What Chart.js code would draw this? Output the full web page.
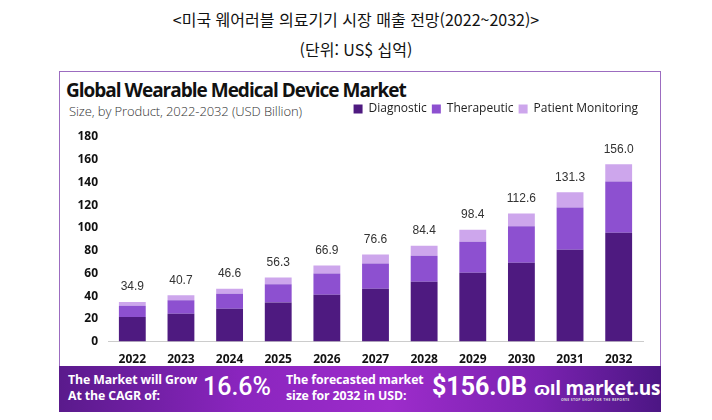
<!DOCTYPE html>
<html lang="ko">
<head>
<meta charset="UTF-8">
<title>Global Wearable Medical Device Market</title>
<script src="https://cdn.jsdelivr.net/npm/chart.js"></script>
<style>
  body{margin:0;width:712px;height:420px;background:#fff;position:relative;overflow:hidden;font-family:'Open Sans',sans-serif}
  .kt{position:absolute;left:0;width:712px;text-align:center;font-family:'Noto Sans CJK KR',sans-serif;font-size:16px;color:#111}
  #box{position:absolute;left:59px;top:71px;width:600px;height:340px;border:1px solid #9c6cc0;border-bottom:none}
  #head{position:absolute;left:66px;top:77px;font-family:'Open Sans',sans-serif;font-weight:700;font-size:19px;color:#111;letter-spacing:-1px}
  #sub{position:absolute;left:69px;top:102px;font-family:'Open Sans',sans-serif;font-size:13px;color:#333;font-weight:300;letter-spacing:-0.1px}
  #wrap{position:absolute;left:60px;top:98px;width:600px;height:279px}
  #banner{position:absolute;left:59px;top:366px;width:602px;height:46px;
    background:linear-gradient(90deg,#5a1a8c 0%,#8a25be 30%,#9d2ccb 55%,#7a22b0 80%,#4c1684 100%);color:#fff}
  #banner div{position:absolute;font-family:'Open Sans',sans-serif;font-weight:700;white-space:nowrap}
  .sm{font-size:12.3px;line-height:16px;top:6px;letter-spacing:-0.1px}
  .big{font-size:25px;top:6px;font-family:'Roboto',sans-serif!important;font-weight:500!important}
  .tag{font-size:3.5px!important;top:31px;left:502px;letter-spacing:0.3px;color:#ddd}
</style>
</head>
<body>
<div class="kt" style="top:7px">&lt;미국 웨어러블 의료기기 시장 매출 전망(2022~2032)&gt;</div>
<div class="kt" style="top:37px">(단위: US$ 십억)</div>
<div id="box"></div>
<div id="head">Global Wearable Medical Device Market</div>
<div id="sub">Size, by Product, 2022-2032 (USD Billion)</div>
<div id="wrap"><canvas id="chart" width="600" height="279"></canvas></div>
<div id="banner">
  <div class="sm" style="left:9px">The Market will Grow<br>At the CAGR of:</div>
  <div class="big" style="left:144px">16.6%</div>
  <div class="sm" style="left:227px">The forecasted market<br>size for 2032 in USD:</div>
  <div class="big" style="left:373px;font-weight:700!important">$156.0B</div>
  <div style="left:475px;top:9px;font-size:19px;letter-spacing:-0.3px">ɷıl market.us</div>
  <div class="tag">ONE STOP SHOP FOR THE REPORTS</div>
</div>
<script>
const years=['2022','2023','2024','2025','2026','2027','2028','2029','2030','2031','2032'];
const diagnostic=[21.6,24.5,29.0,34.3,41.3,46.6,52.6,60.5,69.3,80.8,95.8];
const therapeutic=[10.0,11.9,13.0,16.2,18.6,22.1,22.9,27.4,32.1,37.1,45.1];
const patientMonitoring=[3.3,4.3,4.6,5.8,7.0,7.9,8.9,10.5,11.2,13.4,15.1];
const totals=[34.9,40.7,46.6,56.3,66.9,76.6,84.4,98.4,112.6,131.3,156.0];

/* total value above each stack */
const totalLabels={
  id:'totalLabels',
  afterDatasetsDraw(chart){
    const ctx=chart.ctx, meta=chart.getDatasetMeta(2);
    ctx.save();
    ctx.font='12px "Liberation Sans", Arial, sans-serif';
    ctx.fillStyle='#333';
    ctx.textAlign='center';
    ctx.textBaseline='bottom';
    meta.data.forEach((bar,i)=>{
      ctx.fillText(totals[i].toFixed(1),bar.x,chart.scales.y.getPixelForValue(totals[i])-9);
    });
    ctx.restore();
  }
};

/* extra gap under the legend */
const legendGap={
  id:'legendGap',
  beforeInit(chart){
    const fit=chart.legend.fit;
    chart.legend.fit=function(){fit.call(this);this.height+=12;};
  }
};

const bar={categoryPercentage:0.8,barPercentage:0.69,borderWidth:0};
new Chart(document.getElementById('chart'),{
  type:'bar',
  data:{labels:years,datasets:[
    {label:'Diagnostic',data:diagnostic,backgroundColor:'#4e1a80',...bar},
    {label:'Therapeutic',data:therapeutic,backgroundColor:'#8d50d0',...bar},
    {label:'Patient Monitoring',data:patientMonitoring,backgroundColor:'#cda6ec',...bar}
  ]},
  options:{
    responsive:false,animation:false,
    layout:{padding:{left:0,right:17,top:0,bottom:8}},
    plugins:{
      legend:{position:'top',align:'end',
        labels:{boxWidth:9,boxHeight:9,padding:5,color:'#222',font:{size:12,family:'"Open Sans", sans-serif'}}},
      tooltip:{enabled:false}
    },
    scales:{
      x:{stacked:true,grid:{display:false},border:{color:'#ccc'},
        ticks:{color:'#111',padding:2.5,font:{size:12,weight:'bold',family:'"Open Sans", sans-serif'}}},
      y:{stacked:true,min:0,max:180,grid:{display:false},border:{display:false},
        afterFit(s){s.width=48;},
        ticks:{stepSize:20,color:'#111',padding:2,font:{size:12,weight:'bold',family:'"Open Sans", sans-serif'}}}
    }
  },
  plugins:[totalLabels,legendGap]
});
</script>
</body>
</html>
